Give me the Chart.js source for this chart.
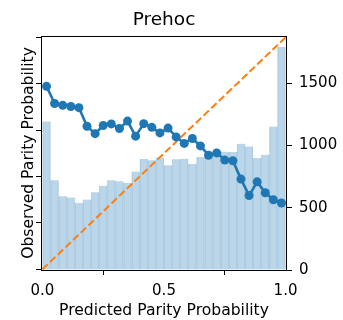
<!DOCTYPE html>
<html>
<head>
<meta charset="utf-8">
<script src="https://cdn.jsdelivr.net/npm/chart.js@4"></script>
<style>
  html, body { margin: 0; padding: 0; background: #fff; }
  #wrap { width: 343px; height: 320px; }
</style>
</head>
<body>
<div id="wrap"><canvas id="calib" width="343" height="320"></canvas></div>
<script>
// bin centres of the 30-bin histogram of predicted probabilities
const binCenters = [0.0167, 0.05, 0.0833, 0.1167, 0.15, 0.1833, 0.2167, 0.25, 0.2833, 0.3167,
  0.35, 0.3833, 0.4167, 0.45, 0.4833, 0.5167, 0.55, 0.5833, 0.6167, 0.65,
  0.6833, 0.7167, 0.75, 0.7833, 0.8167, 0.85, 0.8833, 0.9167, 0.95, 0.9833];
// samples per bin (right axis)
const binCounts = [1192, 720, 592, 581, 539, 565, 624, 677, 720, 712,
  699, 790, 890, 880, 902, 840, 888, 893, 850, 907,
  910, 930, 950, 947, 1013, 992, 899, 925, 1152, 1792];
// observed parity fraction per bin (left axis)
const observed = [0.789, 0.715, 0.707, 0.702, 0.697, 0.617, 0.585, 0.620, 0.627, 0.607,
  0.639, 0.574, 0.628, 0.612, 0.588, 0.609, 0.571, 0.543, 0.564, 0.532,
  0.492, 0.502, 0.471, 0.468, 0.389, 0.318, 0.377, 0.330, 0.300, 0.286];
// perfect calibration reference
const diagonal = [[0, 0], [1, 1]];

const xTicks = [0, 0.5, 1.0];
const leftTicks = [0, 0.2, 0.4, 0.6, 0.8, 1.0];
const rightTicks = [0, 500, 1000, 1500];

Chart.defaults.font.family = "'DejaVu Sans', sans-serif";
Chart.defaults.color = '#000';

// matplotlib-style box around the axes
const frame = {
  id: 'frame',
  afterDatasetsDraw(chart) {
    const { ctx, chartArea: a } = chart;
    ctx.save();
    ctx.strokeStyle = '#000';
    ctx.lineWidth = 1;
    ctx.strokeRect(a.left + 0.5, a.top + 0.5, a.right - a.left - 1, a.bottom - a.top);
    ctx.restore();
  }
};

const tickGrid = { drawOnChartArea: false, tickLength: 5, tickColor: '#000', tickWidth: 1 };

new Chart(document.getElementById('calib'), {
  data: {
    datasets: [
      {
        type: 'line',
        data: binCenters.map((x, i) => ({ x: x, y: observed[i] })),
        yAxisID: 'y',
        borderColor: '#1f77b4',
        backgroundColor: '#1f77b4',
        borderWidth: 2.6,
        pointRadius: 4.5,
        pointBorderWidth: 0,
        tension: 0,
        order: 0
      },
      {
        type: 'line',
        data: diagonal.map(p => ({ x: p[0], y: p[1] })),
        yAxisID: 'y',
        borderColor: '#ff7f0e',
        borderWidth: 2,
        borderDash: [7.4, 3.2],
        pointRadius: 0,
        order: 1
      },
      {
        type: 'bar',
        data: binCenters.map((x, i) => ({ x: x, y: binCounts[i] })),
        yAxisID: 'y2',
        backgroundColor: 'rgba(31,119,180,0.3)',
        borderColor: 'rgba(31,119,180,0.18)',
        borderWidth: { left: 0.6, right: 0.6, top: 0, bottom: 0 },
        borderSkipped: false,
        barPercentage: 1,
        categoryPercentage: 1,
        order: 2
      }
    ]
  },
  options: {
    responsive: false,
    animation: false,
    events: [],
    layout: { padding: 0 },
    plugins: {
      legend: { display: false },
      tooltip: { enabled: false },
      title: {
        display: true,
        text: 'Prehoc',
        fullSize: false,
        font: { size: 18.5, weight: 'normal' },
        padding: { top: 9.2, bottom: 4.6 }
      }
    },
    scales: {
      x: {
        type: 'linear',
        position: 'bottom',
        offset: false,
        min: -0.006,
        max: 1.006,
        afterBuildTicks: s => { s.ticks = xTicks.map(v => ({ value: v })); },
        afterFit: s => { s.height = 50; },
        ticks: { font: { size: 15 }, padding: 7, maxRotation: 0, autoSkip: false,
                 callback: v => Number(v).toFixed(1) },
        grid: tickGrid,
        border: { display: false },
        title: { display: true, text: 'Predicted Parity Probability',
                 font: { size: 15.6, lineHeight: 1.1 }, padding: { top: 0, bottom: 0 } }
      },
      y: {
        type: 'linear',
        position: 'left',
        min: -0.003,
        max: 1.006,
        afterBuildTicks: s => { s.ticks = leftTicks.map(v => ({ value: v })); },
        afterFit: s => { s.width = 41; },
        ticks: { display: false },
        grid: tickGrid,
        border: { display: false },
        title: { display: true, text: 'Observed Parity Probability',
                 font: { size: 15.6, lineHeight: 1.2 }, padding: { top: 19.5, bottom: 0 } }
      },
      y2: {
        type: 'linear',
        position: 'right',
        min: 0,
        max: 1878,
        afterBuildTicks: s => { s.ticks = rightTicks.map(v => ({ value: v })); },
        afterFit: s => { s.width = 56; },
        ticks: { font: { size: 15 }, padding: 7, autoSkip: false, callback: v => String(v) },
        grid: tickGrid,
        border: { display: false }
      }
    }
  },
  plugins: [frame]
});
</script>
</body>
</html>
